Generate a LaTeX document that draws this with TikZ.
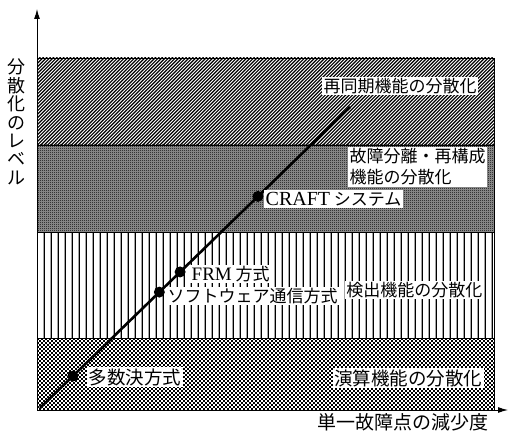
\documentclass[tikz,border=0pt]{standalone}
\usepackage{fontspec}
\setmainfont{Liberation Serif}
\newfontfamily\jp{Noto Sans CJK JP}
\usetikzlibrary{patterns.meta,arrows.meta,calc}

\tikzdeclarepattern{name=darkcheck, tile size={(2pt,2pt)},
  bounding box={(0pt,0pt) and (2pt,2pt)},
  code={\fill (0pt,0pt) rectangle (1pt,1pt) (1pt,1pt) rectangle (2pt,2pt);}}
\tikzdeclarepattern{name=vlines, tile size={(6.8pt,6.8pt)},
  bounding box={(0pt,0pt) and (6.8pt,6.8pt)},
  code={\draw[line width=1.3pt] (3.4pt,-1pt) -- (3.4pt,7.8pt);}}

\begin{document}
\begin{tikzpicture}[x=1pt,y=-1pt,
  lab/.style={fill=white, inner sep=1.5pt, font=\jp\fontsize{17}{21}\selectfont},
  dot/.style={circle, fill=black, inner sep=0pt, minimum size=11pt},
  axis/.style={line width=1pt, -{Latex[length=10pt,width=6pt]}},
  border/.style={line width=0.8pt},
  hatch/.style={line width=1.15pt},
  checkrow/.style={line width=1.7pt, dash pattern=on 2pt off 2pt}]
\useasboundingbox (0,0) rectangle (509,433);

% band 1: diagonal hatching
\begin{scope}
  \clip (37,58) rectangle (494,145);
  \foreach \i in {0,...,162} {
    \draw[hatch] ({-52+3.4*\i},146) -- ({-52+3.4*\i+89},57);
  }
\end{scope}
% band 2: dark screen
\fill[black!40] (37,145) rectangle (494,232);
\fill[pattern=darkcheck] (37,145) rectangle (494,232);
% band 3: vertical lines
\fill[pattern=vlines] (37,232) rectangle (494,338);
% band 4: light dot screen
\begin{scope}
  \clip (37,338) rectangle (494,410);
  \foreach \j in {0,...,18} {
    \draw[checkrow] (37,{339+4*\j}) -- (494,{339+4*\j});
    \draw[checkrow, dash phase=2pt] (37,{341+4*\j}) -- (494,{341+4*\j});
  }
\end{scope}
\draw[border] (37,58) -- (494,58) -- (494,410);
\draw[border] (37,145) -- (494,145);
\draw[border] (37,232) -- (494,232);
\draw[border] (37,338) -- (494,338);

% axes
\coordinate (O) at (37,410);
\coordinate (ytip) at (37,9);
\coordinate (xtip) at (508,410);
\draw[axis] (O) -- (ytip);
\draw[axis] (O) -- (xtip);

% diagonal
\coordinate (lo) at (40,408);
\coordinate (hi) at (350,107);
\draw[line width=2.6pt] (lo) -- (hi);
\node[dot] (d1) at ($(lo)!0.106!(hi)$) {};
\node[dot] (d2) at ($(lo)!0.385!(hi)$) {};
\node[dot] (d3) at ($(lo)!0.452!(hi)$) {};
\node[dot] (d4) at ($(lo)!0.703!(hi)$) {};

% labels
\node[lab, anchor=west] (l1) at (322,86) {再同期機能の分散化};
\node[lab, anchor=north west, align=left, font=\jp\fontsize{17}{21}\selectfont] (l2) at (348,147) {故障分離・再構成\\機能の分散化};
\node[lab, anchor=west] (l3) at (264,199) {{\rmfamily\fontsize{20}{22}\selectfont CRAFT} システム};
\node[lab, anchor=west] (l4) at (190,274) {{\rmfamily\fontsize{19}{21}\selectfont FRM} 方式};
\node[lab, anchor=west] (l5) at (166,296) {ソフトウェア通信方式};
\node[lab, anchor=east] (l6) at (484,290) {検出機能の分散化};
\node[lab, anchor=west, font=\jp\fontsize{18.5}{21}\selectfont] (l7) at (87,377) {多数決方式};
\node[lab, anchor=east, font=\jp\fontsize{18.5}{21}\selectfont] (l8) at (484,378) {演算機能の分散化};

% axis labels
\node[font=\jp\fontsize{18}{18.4}\selectfont, align=center, inner sep=0pt] (ylab) at (16,122) {分\\散\\化\\の\\レ\\ベ\\ル};
\node[font=\jp\fontsize{19}{21}\selectfont, anchor=east, inner sep=0pt] (xlab) at (489,422) {単一故障点の減少度};
\end{tikzpicture}
\end{document}
